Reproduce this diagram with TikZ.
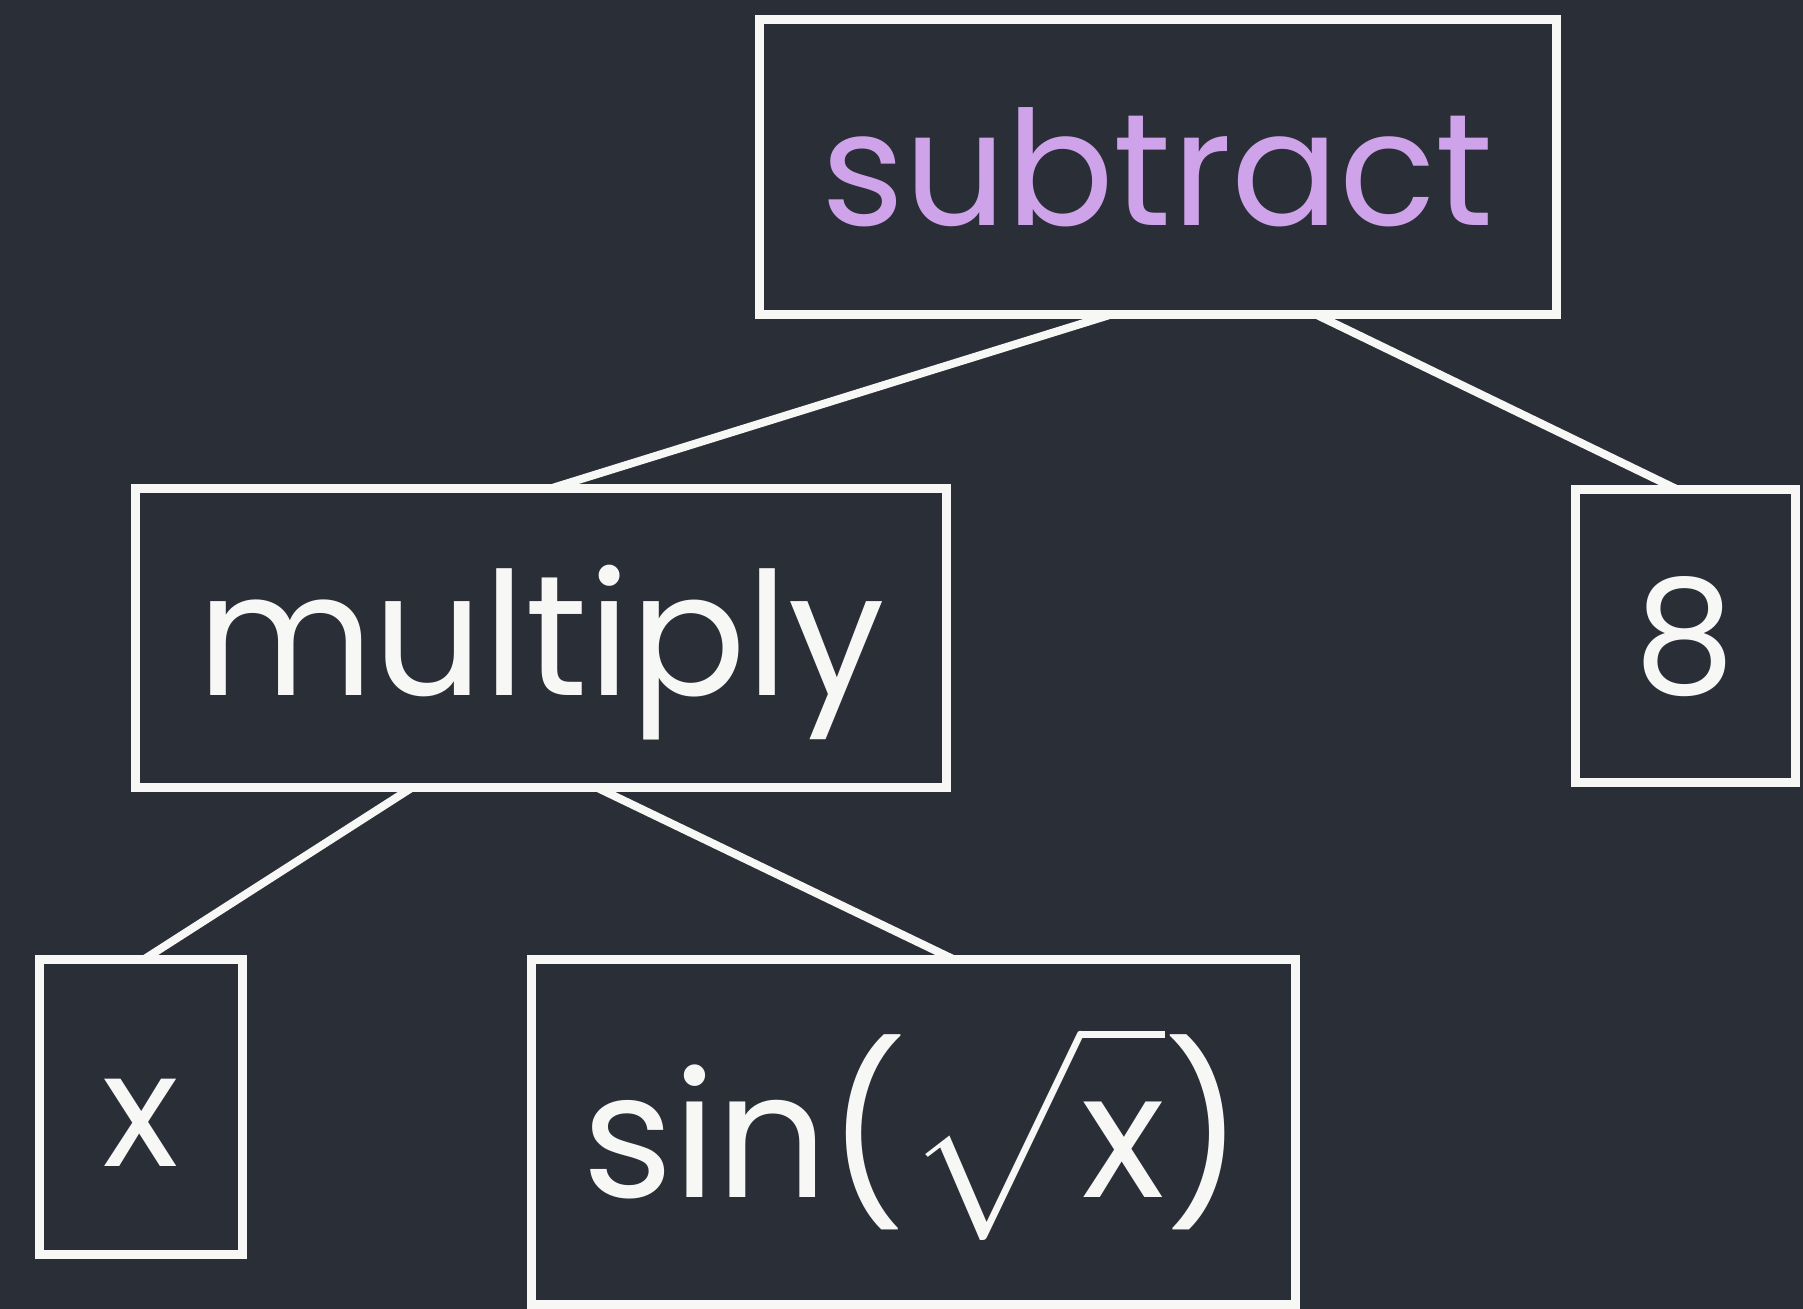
\documentclass[tikz,border=0pt]{standalone}
\usepackage{fontspec}
\usepackage{unicode-math}
\setmainfont{Poppins}
\setmathfont{Latin Modern Math}
\definecolor{board}{HTML}{2A2E36}
\definecolor{chalk}{HTML}{F7F7F5}
\definecolor{lilac}{HTML}{CFA3E9}
\usepackage{tikz}
\usetikzlibrary{calc}

\begin{document}
\begin{tikzpicture}[x=1bp,y=1bp,
  box/.style={draw=chalk,line width=9bp,rectangle,inner sep=0pt,outer sep=0pt,text=chalk,font=\fontsize{160}{170}\selectfont},
  link/.style={draw=chalk,line width=8bp}]
\useasboundingbox (0,0) rectangle (1803,1309);
\fill[board] (0,0) rectangle (1803,1309);
\node[box,text=lilac,minimum width=797bp,minimum height=295bp] (A) at (1157.5,1141.5) {subtract};
\node[box,minimum width=810bp,minimum height=299bp,font=\fontsize{172}{180}\selectfont,text height=161bp,text depth=46bp] (B) at (541,670.5) {multiply};
\node[box,minimum width=220bp,minimum height=293bp] (C) at (1685,672.5) {8};
\node[box,minimum width=202bp,minimum height=295bp,text height=119bp,text depth=0bp] (D) at (141,201.5) {x};
\node[box,minimum width=764bp,minimum height=345bp,font=\fontsize{175}{185}\selectfont] (E) at (913,176.5) {sin($\sqrt{\rule[-.2em]{0pt}{1.02em}\mbox{x}}$)};
\draw[link] ($(A.south west)!.44!(A.south east)$) -- ($(B.north west)!.51!(B.north east)$);
\draw[link] ($(A.south west)!.70!(A.south east)$) -- ($(C.north west)!.47!(C.north east)$);
\draw[link] ($(B.south west)!.34!(B.south east)$) -- ($(D.north west)!.51!(D.north east)$);
\draw[link] ($(B.south west)!.57!(B.south east)$) -- ($(E.north west)!.555!(E.north east)$);
\end{tikzpicture}
\end{document}
